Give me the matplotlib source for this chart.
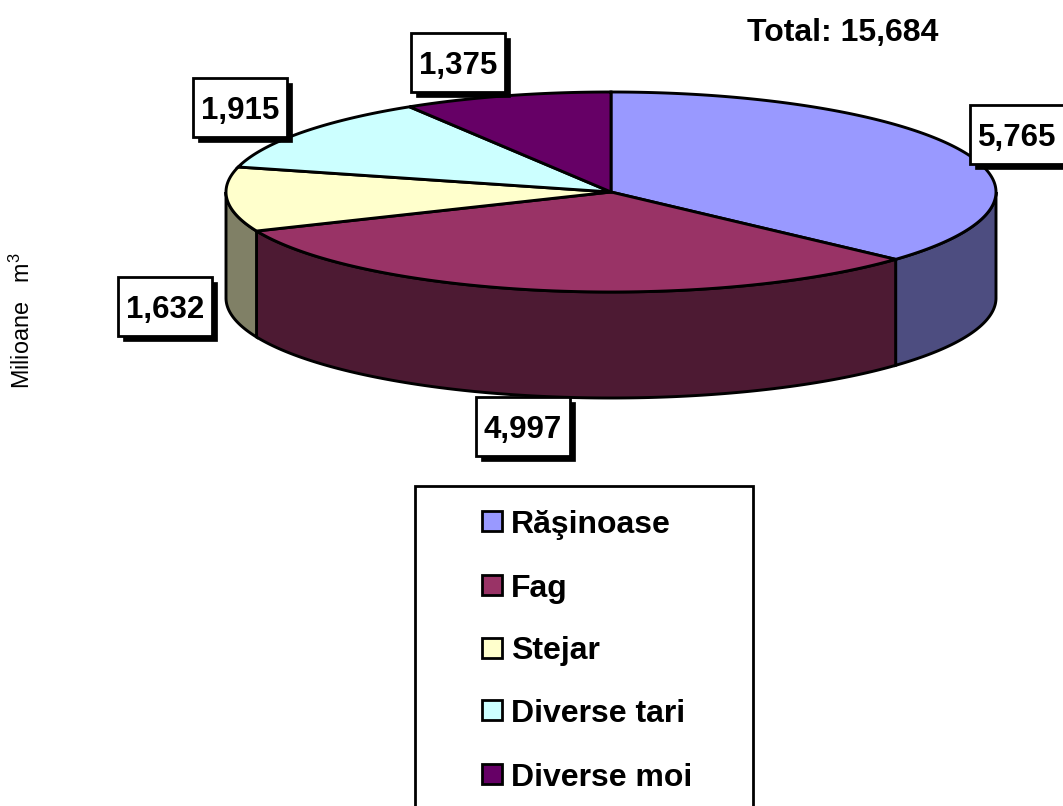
import numpy as np
import matplotlib
matplotlib.use("Agg")
import matplotlib.pyplot as plt
from matplotlib.patches import Rectangle

plt.rcParams["font.family"] = ["Liberation Sans", "DejaVu Sans"]
plt.rcParams["mathtext.default"] = "regular"

# Data
species = ["Răşinoase", "Fag", "Stejar", "Diverse tari", "Diverse moi"]
values = [5765, 4997, 1632, 1915, 1375]
value_labels = ["5,765", "4,997", "1,632", "1,915", "1,375"]
total_label = "Total: 15,684"
top_colors = ["#9999FF", "#993366", "#FFFFCC", "#CCFFFF", "#660066"]
side_colors = ["#4D4D80", "#4D1A33", "#808066", "#668080", "#330033"]

# pie geometry, in pixels
cx, cy = 611, 192
rx, ry = 385, 100
depth = 106
lw = 2.1

fig = plt.figure(figsize=(10.63, 8.06), dpi=100)
ax = fig.add_axes([0, 0, 1, 1])
ax.set_xlim(0, 1063)
ax.set_ylim(806, 0)
ax.axis("off")


def rim(a0, a1, dy=0):
    # angles run clockwise from the top of the ellipse
    a = np.radians(np.linspace(a0, a1, 200))
    return cx + rx * np.sin(a), cy - ry * np.cos(a) + dy


edges = np.concatenate([[0], np.cumsum(values)]) / sum(values) * 360

# walls, only the front half of the ellipse shows
for i in range(len(values)):
    a0, a1 = max(edges[i], 90), min(edges[i + 1], 270)
    if a0 >= a1:
        continue
    x0, y0 = rim(a0, a1)
    x1, y1 = rim(a1, a0, depth)
    ax.fill(np.r_[x0, x1], np.r_[y0, y1], fc=side_colors[i], ec="black", lw=lw, zorder=2)

# top of the pie
for i in range(len(values)):
    x0, y0 = rim(edges[i], edges[i + 1])
    ax.fill(np.r_[cx, x0], np.r_[cy, y0], fc=top_colors[i], ec="black", lw=lw, zorder=3)

# value labels
label_pos = [(970, 105), (476, 397), (118, 277), (193, 78), (411, 33)]
box_w, box_h = 94, 59
for (bx, by), label in zip(label_pos, value_labels):
    ax.add_patch(Rectangle((bx + 5, by + 5), box_w, box_h, fc="black", ec="black", lw=0.5, zorder=4))
    ax.add_patch(Rectangle((bx, by), box_w, box_h, fc="white", ec="black", lw=2, zorder=5))
    ax.text(bx + box_w / 2, by + box_h / 2, label, fontsize=22.5, fontweight="bold",
            ha="center", va="center_baseline", zorder=6)

ax.text(747, 30, total_label, fontsize=23, fontweight="bold", ha="left", va="center_baseline")
ax.text(22, 321, "Milioane   m$^{3}$", fontsize=16.8, rotation=90, ha="center", va="center")

# legend, its frame runs off the bottom edge
ax.add_patch(Rectangle((415, 486), 338, 330, fc="white", ec="black", lw=2, zorder=1))
legend_y = [521, 585, 648, 710, 774]
for name, color, y in zip(species, top_colors, legend_y):
    ax.add_patch(Rectangle((482, y - 10), 20, 20, fc=color, ec="black", lw=2, zorder=2))
    ax.text(511, y, name, fontsize=23, fontweight="bold", ha="left", va="center_baseline", zorder=2)

fig.savefig("out.png", dpi=100)
